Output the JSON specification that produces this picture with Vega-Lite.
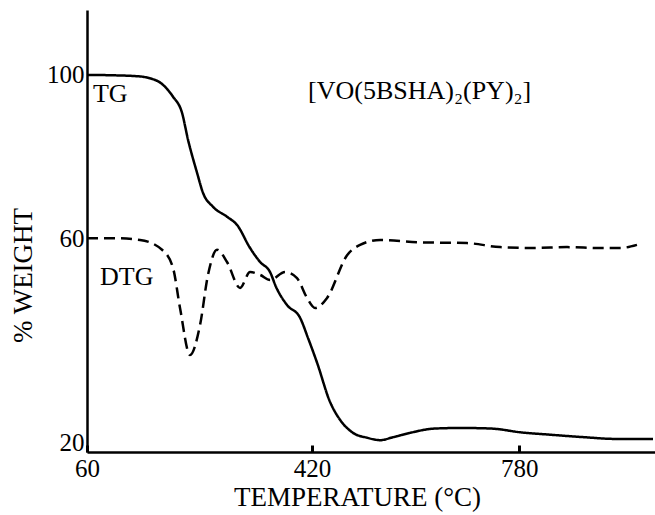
{
  "$schema": "https://vega.github.io/schema/vega-lite/v6.json",
  "width": 568,
  "height": 442,
  "autosize": "none",
  "padding": {"left": 87, "top": 10, "right": 0, "bottom": 63},
  "background": "white",
  "config": {"view": {"stroke": null}, "font": "Liberation Serif"},
  "datasets": {
    "curves": [
      {"series": "TG", "T": 60, "W": 100},
      {"series": "TG", "T": 98.5, "W": 99.9},
      {"series": "TG", "T": 139.7, "W": 99.6},
      {"series": "TG", "T": 150.6, "W": 99.3},
      {"series": "TG", "T": 175.6, "W": 97.4},
      {"series": "TG", "T": 191.5, "W": 94.3},
      {"series": "TG", "T": 205.8, "W": 90.2},
      {"series": "TG", "T": 215.4, "W": 83.4},
      {"series": "TG", "T": 229.9, "W": 75.3},
      {"series": "TG", "T": 239.5, "W": 70.5},
      {"series": "TG", "T": 255.8, "W": 67.2},
      {"series": "TG", "T": 278.6, "W": 64.9},
      {"series": "TG", "T": 295.1, "W": 63.0},
      {"series": "TG", "T": 316.5, "W": 57.8},
      {"series": "TG", "T": 333.1, "W": 54.7},
      {"series": "TG", "T": 349.7, "W": 52.5},
      {"series": "TG", "T": 359.7, "W": 49.3},
      {"series": "TG", "T": 378.1, "W": 45.5},
      {"series": "TG", "T": 399.9, "W": 42.9},
      {"series": "TG", "T": 413.4, "W": 38.8},
      {"series": "TG", "T": 428.7, "W": 34.0},
      {"series": "TG", "T": 450.7, "W": 26.8},
      {"series": "TG", "T": 467.7, "W": 23.7},
      {"series": "TG", "T": 489.9, "W": 21.5},
      {"series": "TG", "T": 514.0, "W": 20.7},
      {"series": "TG", "T": 536.4, "W": 20.3},
      {"series": "TG", "T": 559.0, "W": 20.8},
      {"series": "TG", "T": 588.2, "W": 21.5},
      {"series": "TG", "T": 628.3, "W": 22.2},
      {"series": "TG", "T": 663.3, "W": 22.3},
      {"series": "TG", "T": 693.2, "W": 22.3},
      {"series": "TG", "T": 733.7, "W": 22.2},
      {"series": "TG", "T": 781.6, "W": 21.6},
      {"series": "TG", "T": 834.9, "W": 21.2},
      {"series": "TG", "T": 893.9, "W": 20.8},
      {"series": "TG", "T": 955.1, "W": 20.5},
      {"series": "TG", "T": 1020.4, "W": 20.5},
      {"series": "DTG", "T": 60, "W": 60.0},
      {"series": "DTG", "T": 98.5, "W": 60.0},
      {"series": "DTG", "T": 139.7, "W": 59.6},
      {"series": "DTG", "T": 174.1, "W": 57.4},
      {"series": "DTG", "T": 191.5, "W": 53.4},
      {"series": "DTG", "T": 202.6, "W": 44.9},
      {"series": "DTG", "T": 218.6, "W": 35.5},
      {"series": "DTG", "T": 234.7, "W": 41.4},
      {"series": "DTG", "T": 247.6, "W": 51.9},
      {"series": "DTG", "T": 262.3, "W": 57.4},
      {"series": "DTG", "T": 278.6, "W": 54.7},
      {"series": "DTG", "T": 300.0, "W": 49.1},
      {"series": "DTG", "T": 316.5, "W": 52.5},
      {"series": "DTG", "T": 333.1, "W": 51.9},
      {"series": "DTG", "T": 349.7, "W": 50.8},
      {"series": "DTG", "T": 374.8, "W": 52.5},
      {"series": "DTG", "T": 394.8, "W": 51.2},
      {"series": "DTG", "T": 411.7, "W": 47.0},
      {"series": "DTG", "T": 425.3, "W": 44.9},
      {"series": "DTG", "T": 445.6, "W": 47.0},
      {"series": "DTG", "T": 479.7, "W": 56.2},
      {"series": "DTG", "T": 501.9, "W": 58.5},
      {"series": "DTG", "T": 536.4, "W": 59.6},
      {"series": "DTG", "T": 600.4, "W": 59.1},
      {"series": "DTG", "T": 687.9, "W": 58.9},
      {"series": "DTG", "T": 746.1, "W": 58.0},
      {"series": "DTG", "T": 804.7, "W": 57.8},
      {"series": "DTG", "T": 865.4, "W": 58.0},
      {"series": "DTG", "T": 924.5, "W": 57.8},
      {"series": "DTG", "T": 960.6, "W": 57.8},
      {"series": "DTG", "T": 991.3, "W": 58.5}
    ],
    "labels": [
      {"label": "TG", "T": 68.7, "W": 95.0},
      {"label": "DTG", "T": 79.0, "W": 51.4},
      {"label": "[VO(5BSHA)₂(PY)₂]", "T": 413.4, "W": 95.8}
    ]
  },
  "encoding": {
    "x": {
      "field": "T",
      "type": "quantitative",
      "scale": {"type": "pow", "exponent": 0.92, "domain": [60, 1024], "nice": false, "zero": false},
      "axis": {
        "values": [60, 420, 780],
        "title": "TEMPERATURE (°C)",
        "grid": false,
        "domainColor": "black",
        "domainWidth": 2.5,
        "tickColor": "black",
        "tickWidth": 3,
        "tickSize": -7,
        "labelFlush": false,
        "labelFont": "Liberation Serif",
        "labelFontSize": 25,
        "labelColor": "black",
        "labelPadding": 11,
        "titleFont": "Liberation Serif",
        "titleFontSize": 27,
        "titleFontWeight": "normal",
        "titleColor": "black",
        "titlePadding": 3,
        "titleX": 270
      }
    },
    "y": {
      "field": "W",
      "type": "quantitative",
      "scale": {"type": "pow", "exponent": 0.7, "domain": [18.4, 117.5], "nice": false, "zero": false},
      "axis": {
        "values": [20, 60, 100],
        "title": "% WEIGHT",
        "grid": false,
        "ticks": false,
        "labelFlush": false,
        "domainColor": "black",
        "domainWidth": 2.5,
        "labelFont": "Liberation Serif",
        "labelFontSize": 25,
        "labelColor": "black",
        "labelPadding": 3,
        "titleFont": "Liberation Serif",
        "titleFontSize": 27,
        "titleFontWeight": "normal",
        "titleColor": "black",
        "titlePadding": 9,
        "titleY": 265
      }
    }
  },
  "layer": [
    {
      "data": {"name": "curves"},
      "mark": {"type": "line", "interpolate": "monotone", "color": "black", "strokeWidth": 2.5},
      "encoding": {
        "detail": {"field": "series", "type": "nominal"},
        "strokeDash": {
          "field": "series",
          "type": "nominal",
          "scale": {"domain": ["TG", "DTG"], "range": [[1, 0], [11, 6]]},
          "legend": null
        }
      }
    },
    {
      "data": {"name": "labels"},
      "mark": {"type": "text", "align": "left", "baseline": "middle", "fontSize": 26, "font": "Liberation Serif", "color": "black"},
      "encoding": {
        "text": {"field": "label", "type": "nominal"}
      }
    }
  ]
}
